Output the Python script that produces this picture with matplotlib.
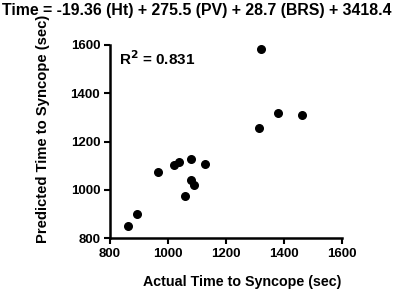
import matplotlib.pyplot as plt

# Actual vs predicted time to syncope (sec)
actual = [863, 892, 966, 1020, 1038, 1080, 1128, 1080, 1089, 1060, 1313, 1322, 1380, 1464]
predicted = [850, 899, 1073, 1103, 1114, 1127, 1107, 1042, 1019, 976, 1258, 1584, 1318, 1311]
ticks = [800, 1000, 1200, 1400, 1600]

plt.rcParams['font.family'] = ['Liberation Sans', 'DejaVu Sans']
plt.rcParams['font.weight'] = 'bold'

fig = plt.figure(figsize=(3.97, 2.92), dpi=100)
ax = fig.add_axes([0.277, 0.184, 0.584, 0.662])

ax.scatter(actual, predicted, s=30, color='black', zorder=3)

ax.set_xlim(800, 1600)
ax.set_ylim(800, 1600)
ax.set_xticks(ticks)
ax.set_yticks(ticks)
ax.tick_params(direction='out', length=4, width=1.5, labelsize=9.5, pad=3)
for s in ['top', 'right']:
    ax.spines[s].set_visible(False)
for s in ['left', 'bottom']:
    ax.spines[s].set_linewidth(1.8)

ax.set_xlabel('Actual Time to Syncope (sec)', fontsize=10.3, fontweight='bold')
ax.xaxis.set_label_coords(0.57, -0.19)
ax.set_ylabel('Predicted Time to Syncope (sec)', fontsize=10.6, fontweight='bold')
ax.yaxis.set_label_coords(-0.259, 0.565)

ax.text(0.04, 0.93, 'R$^{\\mathbf{2}}$ = 0.831', transform=ax.transAxes, fontsize=11,
        fontweight='bold', va='center')

fig.text(0.005, 0.99, 'Time = -19.36 (Ht) + 275.5 (PV) + 28.7 (BRS) + 3418.4',
         fontsize=11.4, fontweight='bold', va='top', ha='left')

fig.savefig('out.png', dpi=100)
